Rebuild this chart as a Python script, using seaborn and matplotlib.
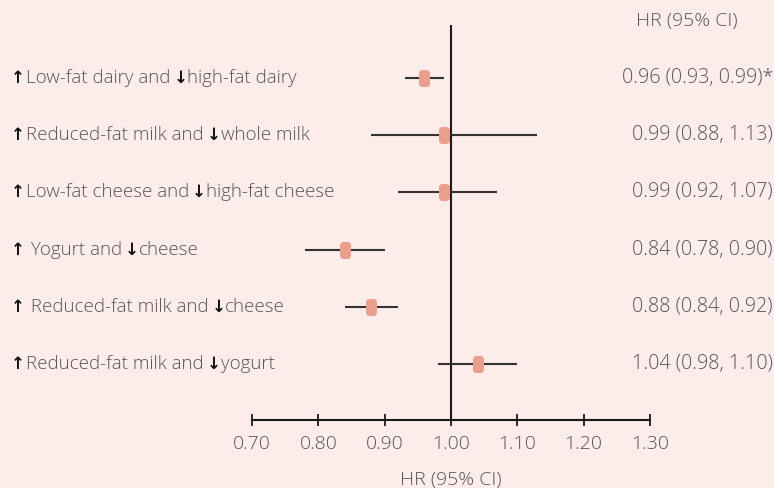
import numpy as np
import pandas as pd
import matplotlib
matplotlib.use("Agg")
import matplotlib.pyplot as plt
import matplotlib.transforms as mtransforms
from matplotlib.path import Path
import seaborn as sns

# Substitution pairs: (increase, decrease)
increase = ["Low-fat dairy", "Reduced-fat milk", "Low-fat cheese",
            " Yogurt", " Reduced-fat milk", "Reduced-fat milk"]
decrease = ["high-fat dairy", "whole milk", "high-fat cheese",
            "cheese", "cheese", "yogurt"]
hr = [0.96, 0.99, 0.99, 0.84, 0.88, 1.04]
ci_low = [0.93, 0.88, 0.92, 0.78, 0.84, 0.98]
ci_high = [0.99, 1.13, 1.07, 0.90, 0.92, 1.10]
flags = ["*", "", "", "", "", ""]
xticks = [0.70, 0.80, 0.90, 1.00, 1.10, 1.20, 1.30]

df = pd.DataFrame({"row": np.arange(len(hr)), "hr": hr,
                   "lo": ci_low, "hi": ci_high})

BG = "#fcedea"
TXT = "#555555"
MARK = "#e99e8e"
FW = "light"

sns.set_theme(style="white", rc={"figure.facecolor": BG, "axes.facecolor": BG})
plt.rcParams["font.family"] = ["Open Sans", "DejaVu Sans"]

W, H = 774, 488
fig = plt.figure(figsize=(W / 100, H / 100), dpi=100)
ax = fig.add_axes([252 / W, (H - 420) / H, 398 / W, 395 / H])
ax.set_facecolor(BG)

# Confidence intervals
ax.hlines(df["row"], df["lo"], df["hi"], color="#333333", lw=1.5, zorder=2)


def rounded_rect(w, h, r, n=10):
    pts = []
    corners = [(w / 2 - r, h / 2 - r, 0), (-w / 2 + r, h / 2 - r, 90),
               (-w / 2 + r, -h / 2 + r, 180), (w / 2 - r, -h / 2 + r, 270)]
    for cx, cy, a0 in corners:
        for t in np.linspace(a0, a0 + 90, n):
            pts.append((cx + r * np.cos(np.radians(t)), cy + r * np.sin(np.radians(t))))
    pts.append(pts[0])
    return Path(pts, closed=True)


marker = rounded_rect(11, 17, 3.5)
sns.scatterplot(data=df, x="hr", y="row", marker=marker, s=150,
                color=MARK, linewidth=0, ax=ax, zorder=3, legend=False)

ax.axvline(1.0, color="#1a1a1a", lw=1.5, zorder=1)

ax.set_xlim(0.70, 1.30)
ax.set_ylim(5.98, -0.927)
ax.set_xticks(xticks)
ax.set_xticklabels([f"{t:.2f}" for t in xticks], fontsize=14, color=TXT,
                   weight=FW)
ax.tick_params(axis="x", direction="inout", length=8, width=1.3,
               color="#1a1a1a", pad=7, bottom=True)
ax.set_yticks([])
ax.set_xlabel("")
ax.set_ylabel("")
for s in ["top", "left", "right"]:
    ax.spines[s].set_visible(False)
ax.spines["bottom"].set_color("#1a1a1a")
ax.spines["bottom"].set_linewidth(1.5)

fig.text(451 / W, 1 - 480 / H, "HR (95% CI)", ha="center", va="center",
         fontsize=14, color=TXT, weight=FW)
fig.text(687 / W, 1 - 21 / H, "HR (95% CI)", ha="center", va="center",
         fontsize=14, color=TXT, weight=FW)

tr = mtransforms.blended_transform_factory(fig.transFigure, ax.transData)
fig.canvas.draw()
renderer = fig.canvas.get_renderer()
LABEL_FS = 13.5
ARROW_FS = 12
for i in range(len(hr)):
    fig.text(11 / W, i, "\u2191", ha="left", va="center", fontsize=ARROW_FS,
             color="#111111", family="DejaVu Sans", weight="bold", transform=tr)
    t1 = fig.text(26 / W, i, increase[i] + " and", ha="left", va="center",
                  fontsize=LABEL_FS, color=TXT, weight=FW, transform=tr)
    bb = t1.get_window_extent(renderer)
    ta = fig.text(bb.x1 / fig.bbox.width + 3 / W, i, "\u2193", ha="left",
                  va="center", fontsize=ARROW_FS, color="#111111",
                  family="DejaVu Sans", weight="bold", transform=tr)
    bba = ta.get_window_extent(renderer)
    fig.text(bba.x1 / fig.bbox.width, i, decrease[i], ha="left",
             va="center", fontsize=LABEL_FS, color=TXT, weight=FW, transform=tr)
    fig.text(773 / W, i, f"{hr[i]:.2f} ({ci_low[i]:.2f}, {ci_high[i]:.2f}){flags[i]}",
             ha="right", va="center", fontsize=14.2, color=TXT, weight=FW,
             transform=tr)

fig.savefig("out.png", dpi=100, facecolor=BG)
